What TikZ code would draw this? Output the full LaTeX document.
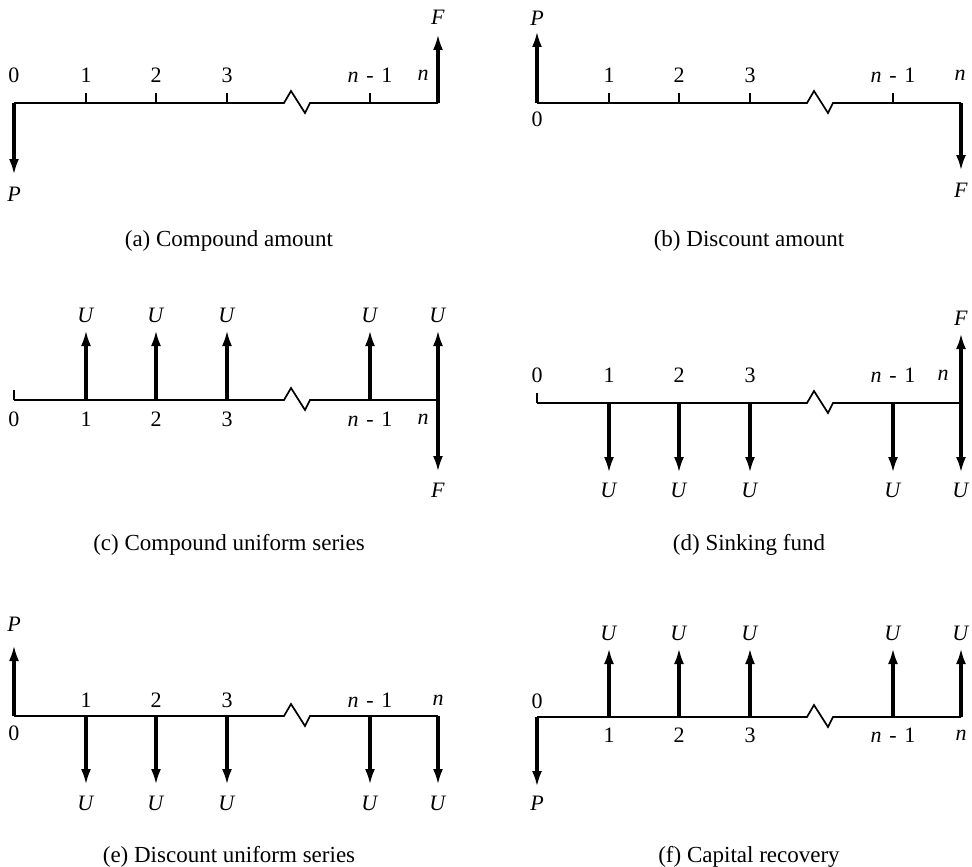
\documentclass[tikz,border=0pt]{standalone}
\usepackage{fontspec}
\setmainfont{Liberation Serif}
\usetikzlibrary{arrows.meta}

% Cash-flow diagrams for the six standard interest factors.
\tikzset{
  axisline/.style={line width=1.7pt, line join=miter},
  tickmark/.style={line width=1.4pt},
  flow/.style={line width=3.4pt, -{Latex[length=16pt,width=10pt]}},
  lbl/.style={font=\fontsize{22}{22}\selectfont, inner sep=0pt},
  captext/.style={font=\fontsize{23}{23}\selectfont, inner sep=0pt},
}
% time axis with the break between period 3 and period n-1
\newcommand\cfaxis{%
  \draw[axisline] (0,0) -- (270,0) -- (277,-12) -- (291,10) -- (296,0) -- (424,0);}
% label for the period before the last
\newcommand\nminus{\textit{n}\hspace{0.35em}-\hspace{0.35em}1}

\begin{document}
\begin{tikzpicture}[x=1pt,y=-1pt]
\useasboundingbox (0,0) rectangle (972,867);

% ---------------- (a) Compound amount ----------------
\begin{scope}[shift={(14,103)}]
  \cfaxis
  \foreach \x in {72,142,213,356} \draw[tickmark] (\x,0) -- (\x,-10);
  \foreach \x/\k/\t in {0/0/0,72/1/1,142/2/2,213/3/3,356/m/\nminus}
    \node[lbl] (a-l\k) at (\x,-28) {\t};
  \node[lbl] (a-ln) at (409,-28) {\textit{n}};
  \coordinate (a-o) at (0,0);
  \coordinate (a-e) at (424,0);
  \coordinate (a-Ptip) at (0,72);
  \coordinate (a-Ftip) at (424,-69);
  \draw[flow] (a-o) -- (a-Ptip);
  \draw[flow] (a-e) -- (a-Ftip);
  \node[lbl] (a-P) at (0,91) {\textit{P}};
  \node[lbl] (a-F) at (424,-86) {\textit{F}};
  \node[captext] (a-cap) at (215,138) {(a) Compound amount};
\end{scope}

% ---------------- (b) Discount amount ----------------
\begin{scope}[shift={(537,103)}]
  \cfaxis
  \foreach \x in {72,142,213,356} \draw[tickmark] (\x,0) -- (\x,-10);
  \foreach \x/\k/\t in {72/1/1,142/2/2,213/3/3,356/m/\nminus}
    \node[lbl] (b-l\k) at (\x,-28) {\t};
  \node[lbl] (b-ln) at (423,-28) {\textit{n}};
  \node[lbl] (b-l0) at (0,16) {0};
  \coordinate (b-o) at (0,0);
  \coordinate (b-e) at (424,0);
  \coordinate (b-Ptip) at (0,-72);
  \coordinate (b-Ftip) at (424,68);
  \draw[flow] (b-o) -- (b-Ptip);
  \draw[flow] (b-e) -- (b-Ftip);
  \node[lbl] (b-P) at (0,-85) {\textit{P}};
  \node[lbl] (b-F) at (424,87) {\textit{F}};
  \node[captext] (b-cap) at (212,138) {(b) Discount amount};
\end{scope}

% ---------------- (c) Compound uniform series ----------------
\begin{scope}[shift={(14,400)}]
  \cfaxis
  \draw[tickmark] (0,0) -- (0,-10);
  \foreach \x/\k/\t in {0/0/0,72/1/1,142/2/2,213/3/3,356/m/\nminus}
    \node[lbl] (c-l\k) at (\x,19) {\t};
  \node[lbl] (c-ln) at (409,19) {\textit{n}};
  \foreach \x/\k in {72/1,142/2,213/3,356/m,424/n} {
    \coordinate (c-t\k) at (\x,0);
    \coordinate (c-u\k) at (\x,-70);
    \draw[flow] (c-t\k) -- (c-u\k);
    \node[lbl] (c-U\k) at (\x,-85) {\textit{U}};
  }
  \coordinate (c-Ftip) at (424,72);
  \draw[flow] (c-tn) -- (c-Ftip);
  \node[lbl] (c-F) at (424,90) {\textit{F}};
  \node[captext] (c-cap) at (215,145) {(c) Compound uniform series};
\end{scope}

% ---------------- (d) Sinking fund ----------------
\begin{scope}[shift={(537,403)}]
  \cfaxis
  \draw[tickmark] (0,0) -- (0,-10);
  \foreach \x/\k/\t in {0/0/0,72/1/1,142/2/2,213/3/3,356/m/\nminus}
    \node[lbl] (d-l\k) at (\x,-28) {\t};
  \node[lbl] (d-ln) at (406,-28) {\textit{n}};
  \foreach \x/\k in {72/1,142/2,213/3,356/m,424/n} {
    \coordinate (d-t\k) at (\x,0);
    \coordinate (d-u\k) at (\x,70);
    \draw[flow] (d-t\k) -- (d-u\k);
    \node[lbl] (d-U\k) at (\x,87) {\textit{U}};
  }
  \coordinate (d-Ftip) at (424,-70);
  \draw[flow] (d-tn) -- (d-Ftip);
  \node[lbl] (d-F) at (424,-85) {\textit{F}};
  \node[captext] (d-cap) at (212,142) {(d) Sinking fund};
\end{scope}

% ---------------- (e) Discount uniform series ----------------
\begin{scope}[shift={(14,716)}]
  \cfaxis
  \foreach \x/\k/\t in {72/1/1,142/2/2,213/3/3,356/m/\nminus,424/n/\textit{n}}
    \node[lbl] (e-l\k) at (\x,-16) {\t};
  \node[lbl] (e-l0) at (0,17) {0};
  \coordinate (e-o) at (0,0);
  \coordinate (e-Ptip) at (0,-71);
  \draw[flow] (e-o) -- (e-Ptip);
  \node[lbl] (e-P) at (0,-92) {\textit{P}};
  \foreach \x/\k in {72/1,142/2,213/3,356/m,424/n} {
    \coordinate (e-t\k) at (\x,0);
    \coordinate (e-u\k) at (\x,69);
    \draw[flow] (e-t\k) -- (e-u\k);
    \node[lbl] (e-U\k) at (\x,87) {\textit{U}};
  }
  \node[captext] (e-cap) at (215,141) {(e) Discount uniform series};
\end{scope}

% ---------------- (f) Capital recovery ----------------
\begin{scope}[shift={(537,717)}]
  \cfaxis
  \foreach \x/\k/\t in {72/1/1,142/2/2,213/3/3,356/m/\nminus,424/n/\textit{n}}
    \node[lbl] (f-l\k) at (\x,18) {\t};
  \node[lbl] (f-l0) at (0,-16) {0};
  \coordinate (f-o) at (0,0);
  \coordinate (f-Ptip) at (0,70);
  \draw[flow] (f-o) -- (f-Ptip);
  \node[lbl] (f-P) at (0,86) {\textit{P}};
  \foreach \x/\k in {72/1,142/2,213/3,356/m,424/n} {
    \coordinate (f-t\k) at (\x,0);
    \coordinate (f-u\k) at (\x,-69);
    \draw[flow] (f-t\k) -- (f-u\k);
    \node[lbl] (f-U\k) at (\x,-84) {\textit{U}};
  }
  \node[captext] (f-cap) at (212,140) {(f) Capital recovery};
\end{scope}

\end{tikzpicture}
\end{document}
